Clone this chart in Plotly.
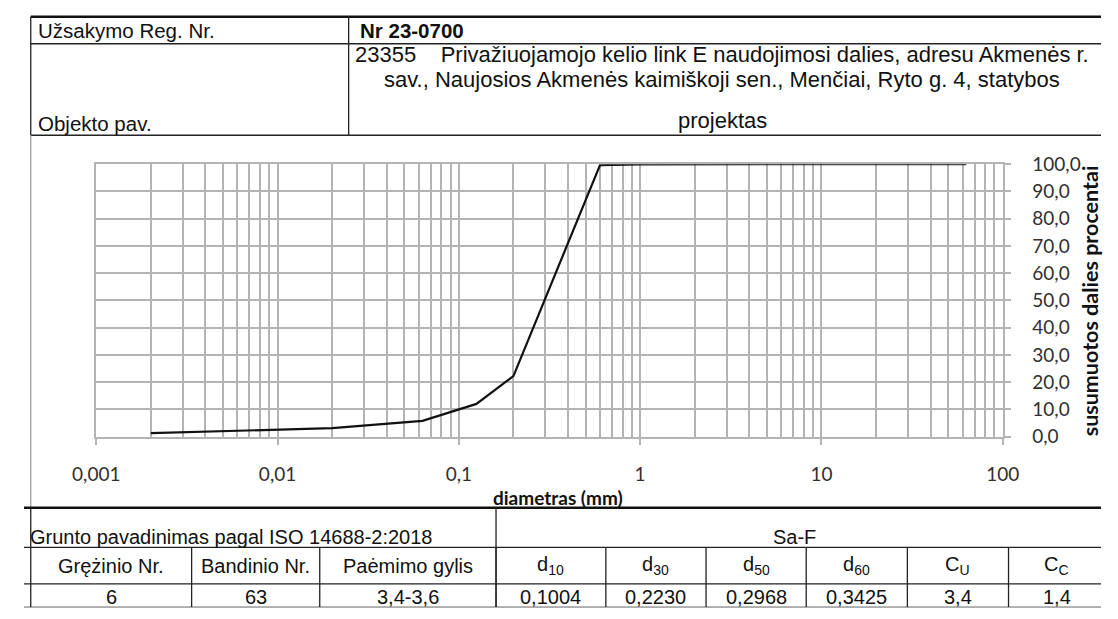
import plotly.graph_objects as go

W, H = 1118, 619

# Grain-size distribution (sieve + hydrometer), cumulative passing %
diametras_mm = [0.002, 0.006, 0.02, 0.063, 0.125, 0.2, 0.6, 1, 2, 6.3, 20, 63]
praeina_proc = [1.3, 2.1, 3.1, 5.8, 12.0, 22.2, 99.6, 99.9, 100, 100, 100, 100]

x_tick_vals = [0.001, 0.01, 0.1, 1, 10, 100]
x_tick_text = ["0,001", "0,01", "0,1", "1", "10", "100"]
x_minor_vals = [m * 10.0 ** e for e in range(-3, 2) for m in range(2, 10)]

# Header fields
uzsakymo_label = "Užsakymo Reg. Nr."
uzsakymo_nr = "Nr 23-0700"
objekto_label = "Objekto pav."
objekto_eilutes = [
    "23355\u00a0\u00a0\u00a0 Privažiuojamojo kelio link E naudojimosi dalies, adresu Akmenės r.",
    "sav., Naujosios Akmenės kaimiškoji sen., Menčiai, Ryto g. 4, statybos",
    "projektas",
]

# Summary table
grunto_label = "Grunto pavadinimas pagal ISO 14688-2:2018"
grunto_pavadinimas = "Sa-F"
lenteles_antrastes = ["Grężinio Nr.", "Bandinio Nr.", "Paėmimo gylis",
                      "d<sub>10</sub>", "d<sub>30</sub>", "d<sub>50</sub>",
                      "d<sub>60</sub>", "C<sub>U</sub>", "C<sub>C</sub>"]
lenteles_reiksmes = ["6", "63", "3,4-3,6", "0,1004", "0,2230", "0,2968",
                     "0,3425", "3,4", "1,4"]


def px(x):
    return x / W


def py(y):
    return 1 - y / H


PLOT_L, PLOT_R, PLOT_T, PLOT_B = 75, 1016, 158, 441
GRID = "#b4b4b4"
TXT_FONT = "Liberation Sans, Arial, sans-serif"
CHART_FONT = "Lato, Open Sans, sans-serif"

fig = go.Figure()
fig.add_trace(go.Scatter(
    x=diametras_mm, y=praeina_proc, mode="lines",
    line=dict(color="#111111", width=2.2), hoverinfo="skip",
))

fig.update_layout(
    width=W, height=H, margin=dict(l=0, r=0, t=0, b=0),
    paper_bgcolor="white", plot_bgcolor="white", showlegend=False,
    separators=",.",
    xaxis=dict(
        type="log", range=[-3, 2], domain=[px(PLOT_L), px(PLOT_R)],
        tickmode="array", tickvals=x_tick_vals, ticktext=x_tick_text,
        ticks="outside", ticklen=7, tickwidth=1.5, tickcolor=GRID,
        ticklabelstandoff=13,
        showgrid=True, gridcolor=GRID, gridwidth=1.5,
        minor=dict(tickmode="array", tickvals=x_minor_vals, showgrid=True,
                   gridcolor=GRID, gridwidth=1.5, ticks=""),
        showline=True, linecolor=GRID, linewidth=1.5, mirror=True,
        tickfont=dict(family=CHART_FONT, size=19, color="#303030"),
        fixedrange=True,
    ),
    yaxis=dict(
        range=[0, 100], domain=[py(PLOT_B), py(PLOT_T)], side="right",
        dtick=10, tick0=0, tickformat=".1f",
        ticks="outside", ticklen=7, tickwidth=1.5, tickcolor=GRID,
        ticklabelstandoff=17,
        showgrid=True, gridcolor=GRID, gridwidth=1.5,
        showline=True, linecolor=GRID, linewidth=1.5, mirror=True,
        zeroline=False,
        tickfont=dict(family=CHART_FONT, size=19, color="#303030"),
        fixedrange=True,
    ),
)

shapes = []


def hline(y, x0, x1, w=1.3, color="#222222"):
    shapes.append(dict(type="line", xref="paper", yref="paper",
                       x0=px(x0), x1=px(x1), y0=py(y), y1=py(y),
                       line=dict(color=color, width=w)))


def vline(x, y0, y1, w=1.3, color="#222222"):
    shapes.append(dict(type="line", xref="paper", yref="paper",
                       x0=px(x), x1=px(x), y0=py(y0), y1=py(y1),
                       line=dict(color=color, width=w)))


annotations = []


def text(x, y, s, size=20, anchor="center", bold=False, family=TXT_FONT,
         angle=0, color="#111111"):
    annotations.append(dict(
        xref="paper", yref="paper", x=px(x), y=py(y), text=s,
        showarrow=False, xanchor=anchor, yanchor="middle", textangle=angle,
        font=dict(family=family, size=size, color=color,
                  weight="bold" if bold else "normal"),
    ))


# Header block
HDR_TOP, HDR_ROW, HDR_BOT, HDR_DIV = 5, 33, 128, 337
hline(HDR_TOP, 7, W, w=2.5, color="#111111")
hline(HDR_ROW, 7, W)
hline(HDR_BOT, 7, W)
vline(7, HDR_TOP, HDR_BOT)
vline(HDR_DIV, HDR_TOP, HDR_BOT)
text(12, 19, uzsakymo_label, size=20.5, anchor="left")
text(347, 19, uzsakymo_nr, size=20.5, anchor="left", bold=True)
text(12, 116, objekto_label, size=20.5, anchor="left")
for yy, line in zip([44, 70, 113], objekto_eilutes):
    text(725, yy, line, size=22)

# Chart frame edge
vline(7, HDR_BOT, 515, w=1.3, color="#a0a0a0")

# Axis titles
text(554, 504, "diametras (mm)", size=19, bold=True, family=CHART_FONT)
text(1106, 300, "susumuotos dalies procentai", size=21.5, bold=True,
     family=CHART_FONT, angle=-90)

# Summary table
T_TOP, T_R1, T_R2, T_BOT = 515, 556, 594, 618
col_edges = [7, 174, 307, 490, 604, 708, 812, 917, 1022, 1122]
hline(T_TOP, 0, W, w=2.5, color="#111111")
hline(T_R1, 0, W)
hline(T_R2, 0, W)
hline(T_BOT, 0, W, w=1.0, color="#666666")
vline(490, T_TOP, T_BOT)
for cx in col_edges[1:-1]:
    vline(cx, T_R1, T_BOT)
vline(7, T_TOP, T_BOT)

text(4, 545, grunto_label, size=20, anchor="left")
text(800, 545, grunto_pavadinimas, size=20)
centers = [(a + b) / 2 for a, b in zip(col_edges[:-1], col_edges[1:])]
for cx, head, val in zip(centers, lenteles_antrastes, lenteles_reiksmes):
    text(cx, 575, head, size=20)
    text(cx, 608, val, size=20)

fig.update_layout(shapes=shapes, annotations=annotations)
fig.write_html("out.html")
